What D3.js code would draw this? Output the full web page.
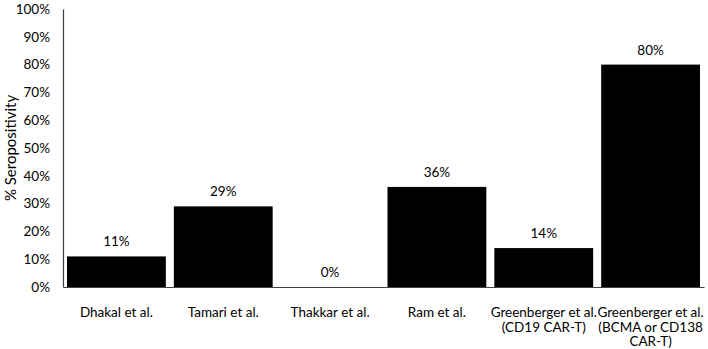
<!DOCTYPE html>
<html>
<head>
<meta charset="utf-8">
<script src="https://cdn.jsdelivr.net/npm/d3@7"></script>
<style>
  body { margin: 0; background: #fff; }
  text { font-family: Lato, 'Open Sans', sans-serif; fill: #000; }
</style>
</head>
<body>
<div id="display"></div>
<script>
const studies = [
  ['Dhakal et al.'],
  ['Tamari et al.'],
  ['Thakkar et al.'],
  ['Ram et al.'],
  ['Greenberger et al.', '(CD19 CAR-T)'],
  ['Greenberger et al.', '(BCMA or CD138', 'CAR-T)'],
];
const seropositivity = [11, 29, 0, 36, 14, 80];
const yTicks = [0, 10, 20, 30, 40, 50, 60, 70, 80, 90, 100];

const width = 708;
const height = 349;
const margin = {top: 9, right: 4, bottom: 62, left: 63};

const svg = d3.select('#display').append('svg')
    .attr('width', width)
    .attr('height', height);

const x = d3.scaleBand()
    .domain(d3.range(studies.length))
    .range([margin.left, width - margin.right])
    .paddingInner(0.075)
    .paddingOuter(0.0375);
const y = d3.scaleLinear()
    .domain([0, 100])
    .range([height - margin.bottom, margin.top]);

// bars
svg.append('g')
    .selectAll('rect')
    .data(seropositivity)
    .enter()
    .append('rect')
    .attr('x', (d, i) => x(i))
    .attr('width', x.bandwidth())
    .attr('y', (d) => y(d))
    .attr('height', (d) => y(0) - y(d))
    .style('fill', '#000');

// value labels
svg.append('g')
    .selectAll('text')
    .data(seropositivity)
    .enter()
    .append('text')
    .attr('x', (d, i) => x(i) + x.bandwidth() / 2)
    .attr('y', (d) => y(d) - 10)
    .attr('text-anchor', 'middle')
    .style('font-size', '13.5px')
    .text((d) => d + '%');

// y axis
const yAxis = svg.append('g')
    .attr('transform', 'translate(' + margin.left + ',0)')
    .call(d3.axisLeft(y).tickValues(yTicks)
        .tickFormat((d) => d + '%').tickSize(0).tickPadding(13));
yAxis.select('.domain').attr('stroke', '#404040').attr('stroke-width', 1.2);
yAxis.selectAll('text')
    .style('font-size', '13.5px')
    .style('font-family', "Lato, 'Open Sans', sans-serif");

// x axis
const xAxis = svg.append('g')
    .attr('transform', 'translate(0,' + y(0) + ')')
    .call(d3.axisBottom(x).tickSize(0).tickFormat(''));
xAxis.select('.domain').attr('stroke', '#404040').attr('stroke-width', 1.2);

const labels = svg.append('g')
    .selectAll('text')
    .data(studies)
    .enter()
    .append('text')
    .attr('text-anchor', 'middle')
    .attr('transform', (d, i) =>
      'translate(' + (x(i) + x.bandwidth() / 2) + ',' + (y(0) + 30) + ')')
    .style('font-size', '13.5px');
labels.selectAll('tspan')
    .data((d) => d)
    .enter()
    .append('tspan')
    .attr('x', 0)
    .attr('dy', (d, i) => i == 0 ? 0 : 14.5)
    .text((d) => d);

// axis title
svg.append('text')
    .attr('transform', 'translate(16,' + ((y(0) + y(100)) / 2) + ') rotate(-90)')
    .attr('text-anchor', 'middle')
    .style('font-size', '15px')
    .text('% Seropositivity');
</script>
</body>
</html>
